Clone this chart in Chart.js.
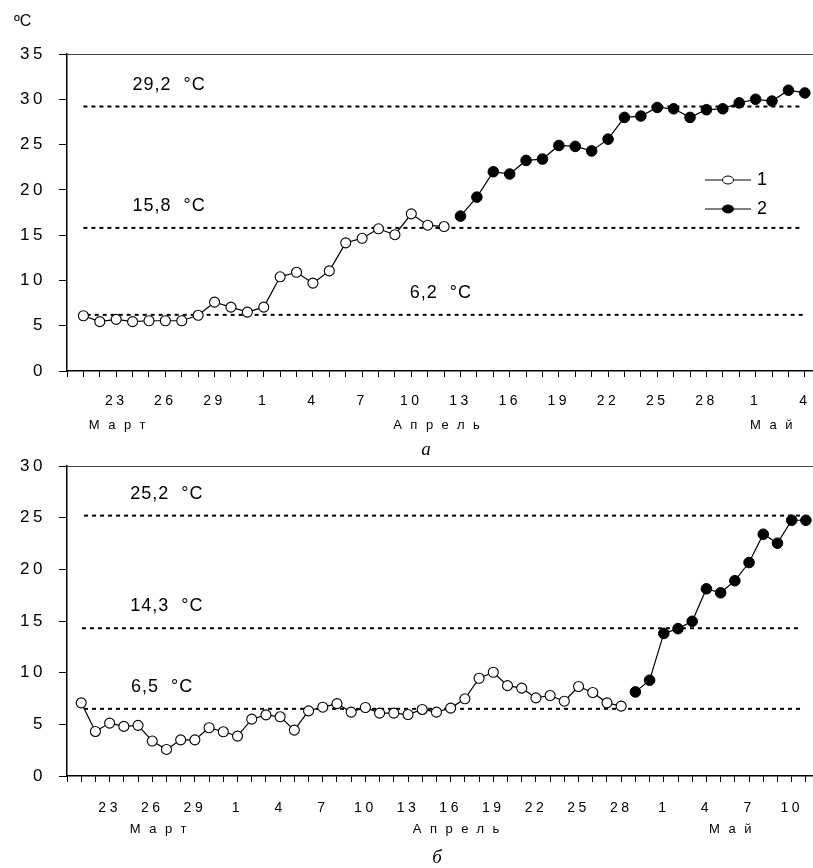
<!DOCTYPE html>
<html><head><meta charset="utf-8">
<script src="https://cdn.jsdelivr.net/npm/chart.js@4"></script>
<style>
html,body{margin:0;padding:0;background:#fff;}
#wrap{position:relative;width:813px;height:868px;overflow:hidden;}
#c1{position:absolute;left:0;top:0;}
#c2{position:absolute;left:0;top:450px;}
</style></head>
<body><div id="wrap"><canvas id="c1" width="813" height="462"></canvas><canvas id="c2" width="813" height="418"></canvas></div>
<script>
// ---------- DATA (x = day index, 0 = 20 March) ----------
// Chart a
const openStartA = 1;    // 21 March
const openA = [6.1, 5.45, 5.7, 5.45, 5.55, 5.55, 5.55, 6.15, 7.6, 7.05, 6.5, 7.05,
  10.4, 10.9, 9.7, 11.05, 14.15, 14.65, 15.7, 15.05, 17.35, 16.1, 15.95];
const filledStartA = 24; // 13 April
const filledA = [17.1, 19.2, 22.0, 21.75, 23.25, 23.4, 24.9, 24.8, 24.3, 25.6, 28.0, 28.15,
  29.1, 28.95, 28.0, 28.85, 28.95, 29.6, 30.0, 29.8, 31.0, 30.7];
const levelsA = [29.2, 15.8, 6.2];
const levelLabelsA = ['29,2  °C', '15,8  °C', '6,2  °C'];
const tickLabelsA = ['23','26','29','1','4','7','10','13','16','19','22','25','28','1','4'];
const monthsA = ['Март', 'Апрель', 'Май'];
const yTicksA = [0, 5, 10, 15, 20, 25, 30, 35];

// Chart б
const openStartB = 1;    // 21 March
const openB = [7.08, 4.31, 5.12, 4.8, 4.9, 3.38, 2.57, 3.5, 3.5, 4.67, 4.28, 3.86,
  5.5, 5.92, 5.73, 4.44, 6.3, 6.66, 7.0, 6.18, 6.63, 6.08, 6.08, 5.95, 6.44, 6.18,
  6.57, 7.47, 9.46, 10.04, 8.75, 8.5, 7.56, 7.79, 7.24, 8.66, 8.08, 7.08, 6.76];
const filledStartB = 40; // 29 April
const filledB = [8.14, 9.27, 13.8, 14.26, 14.97, 18.12, 17.73, 18.9, 20.66, 23.4, 22.53, 24.75, 24.75];
const levelsB = [25.2, 14.3, 6.5];
const levelLabelsB = ['25,2  °C', '14,3  °C', '6,5  °C'];
const tickLabelsB = ['23','26','29','1','4','7','10','13','16','19','22','25','28','1','4','7','10'];
const monthsB = ['Март', 'Апрель', 'Май'];
const yTicksB = [0, 5, 10, 15, 20, 25, 30];

const legendLabels = ['1', '2'];

// ---------- helpers ----------
const FONT = "'Liberation Sans', Arial, sans-serif";
const toPts = (start, arr) => arr.map((v, i) => ({x: start + i, y: v}));

function makeChart(id, cfg) {
  const levelDatasets = cfg.levels.map((v, i) => ({
    type: 'line',
    data: [{x: cfg.levelFrom[i], y: v}, {x: cfg.levelTo[i], y: v}],
    borderColor: '#000', borderWidth: 2, borderDash: [4, 4],
    pointRadius: 0, fill: false, order: 5, clip: false
  }));
  const seriesDatasets = [
    { data: toPts(cfg.openStart, cfg.open), borderColor: '#000', borderWidth: 1.2,
      pointRadius: 5, pointHoverRadius: 5, pointBackgroundColor: '#fff', pointBorderColor: '#000',
      pointBorderWidth: 1.1, fill: false, tension: 0, order: 1, clip: false },
    { data: toPts(cfg.filledStart, cfg.filled), borderColor: '#000', borderWidth: 1.2,
      pointRadius: 5.3, pointHoverRadius: 5.3, pointBackgroundColor: '#000', pointBorderColor: '#000',
      pointBorderWidth: 1, fill: false, tension: 0, order: 0, clip: false }
  ];

  const decor = {
    id: 'decor',
    afterDraw(chart) {
      const ctx = chart.ctx, ca = chart.chartArea;
      const xs = chart.scales.x, ys = chart.scales.y;
      ctx.save();
      // top border line
      ctx.letterSpacing = '0px';
      ctx.strokeStyle = '#444'; ctx.lineWidth = 1.2;
      ctx.beginPath(); ctx.moveTo(ca.left, ca.top + 0.5); ctx.lineTo(chart.width, ca.top + 0.5); ctx.stroke();
      // level labels
      ctx.letterSpacing = '1px';
      ctx.fillStyle = '#000'; ctx.font = "18px " + FONT;
      ctx.textAlign = 'left'; ctx.textBaseline = 'middle';
      cfg.levels.forEach((v, i) => {
        ctx.fillText(cfg.levelLabels[i], xs.getPixelForValue(cfg.labelAt[i]), ys.getPixelForValue(v) - 22);
      });
      // month labels
      ctx.font = "13px " + FONT; ctx.letterSpacing = '8.5px'; ctx.textAlign = 'center';
      cfg.months.forEach((m, i) => {
        ctx.fillText(m, xs.getPixelForValue(cfg.monthAt[i]) + 4, ca.bottom + cfg.monthDy);
      });
      // panel letter
      ctx.letterSpacing = '0px';
      ctx.font = "italic 19px 'Liberation Serif', 'Times New Roman', serif";
      ctx.textBaseline = 'alphabetic';
      ctx.fillText(cfg.panel, cfg.panelX, cfg.panelY);
      // y unit
      if (cfg.unit) {
        ctx.font = "16px " + FONT; ctx.textAlign = 'left'; ctx.textBaseline = 'middle';
        ctx.fillText(cfg.unit, 14, 22);
      }
      // legend
      if (cfg.legend) {
        const ds = chart.data.datasets;
        const items = [ds[cfg.levels.length], ds[cfg.levels.length + 1]];
        items.forEach((d, i) => {
          const y = cfg.legendY[i], x0 = cfg.legendX;
          ctx.strokeStyle = '#000'; ctx.lineWidth = 1.2;
          ctx.beginPath(); ctx.moveTo(x0, y); ctx.lineTo(x0 + 46, y); ctx.stroke();
          ctx.beginPath(); ctx.ellipse(x0 + 23, y, 5.5, 4, 0, 0, Math.PI * 2);
          ctx.fillStyle = d.pointBackgroundColor; ctx.fill();
          ctx.lineWidth = 1; ctx.strokeStyle = '#000'; ctx.stroke();
          ctx.fillStyle = '#000'; ctx.font = "18px " + FONT;
          ctx.textAlign = 'left'; ctx.textBaseline = 'middle';
          ctx.fillText(legendLabels[i], x0 + 52, y);
        });
      }
      ctx.restore();
    }
  };
  const spacing = {
    id: 'spacing',
    beforeDraw(chart) { chart.ctx.letterSpacing = '3.5px'; },
    beforeDatasetsDraw(chart) { chart.ctx.letterSpacing = '0px'; }
  };

  return new Chart(document.getElementById(id), {
    type: 'line',
    data: { datasets: [...levelDatasets, ...seriesDatasets] },
    options: {
      responsive: false, animation: false,
      layout: { autoPadding: false, padding: { top: cfg.padTop, left: 0, right: 0, bottom: 0 } },
      plugins: { legend: { display: false }, tooltip: { enabled: false } },
      scales: {
        x: {
          type: 'linear', min: 0, max: cfg.maxX,
          afterBuildTicks: s => { const t = []; for (let i = 0; i <= cfg.lastIdx; i++) t.push({value: i}); s.ticks = t; },
          ticks: {
            autoSkip: false, maxRotation: 0, minRotation: 0, padding: cfg.xPad, color: '#000',
            font: { family: FONT, size: 14 },
            callback: v => (v >= 3 && (v - 3) % 3 === 0) ? (cfg.tickLabels[(v - 3) / 3] || '') : ''
          },
          grid: { drawOnChartArea: false, drawTicks: true, tickLength: 6, color: '#000', lineWidth: 1 },
          border: { display: true, color: '#000', width: 1.5 },
          afterFit: s => { s.height = cfg.xHeight; s.paddingLeft = 0; s.paddingRight = 0; }
        },
        y: {
          min: 0, max: cfg.maxY,
          afterBuildTicks: s => { s.ticks = cfg.yTicks.map(v => ({value: v})); },
          ticks: { color: '#000', padding: 13, font: { family: FONT, size: 17 } },
          grid: { drawOnChartArea: false, drawTicks: true, tickLength: 8, color: '#000', lineWidth: 1 },
          border: { display: true, color: '#000', width: 1.5 },
          afterFit: s => { s.width = 67; s.paddingTop = 0; s.paddingBottom = 0; }
        }
      }
    },
    plugins: [spacing, decor]
  });
}

makeChart('c1', {
  open: openA, openStart: openStartA, filled: filledA, filledStart: filledStartA,
  levels: levelsA, levelLabels: levelLabelsA, levelFrom: [1, 1, 1.2], levelTo: [44.7, 44.7, 45],
  labelAt: [4, 4, 20.9],
  tickLabels: tickLabelsA, yTicks: yTicksA, maxY: 35, maxX: 45.5, lastIdx: 45,
  months: monthsA, monthAt: [3.07, 22.55, 42.97], monthDy: 54,
  panel: 'а', panelX: 426, panelY: 455,
  unit: 'ºC', legend: true, legendX: 705, legendY: [180, 209],
  padTop: 54, xHeight: 91, xPad: 16
});

makeChart('c2', {
  open: openB, openStart: openStartB, filled: filledB, filledStart: filledStartB,
  levels: levelsB, levelLabels: levelLabelsB, levelFrom: [1.2, 1.05, 1.2], levelTo: [51.8, 51.5, 51.8],
  labelAt: [4.45, 4.45, 4.5],
  tickLabels: tickLabelsB, yTicks: yTicksB, maxY: 30, maxX: 52.5, lastIdx: 52,
  months: monthsB, monthAt: [6.43, 27.4, 46.7], monthDy: 53,
  panel: 'б', panelX: 437, panelY: 413,
  unit: null, legend: false,
  padTop: 16, xHeight: 92, xPad: 18
});
</script>
</body></html>
